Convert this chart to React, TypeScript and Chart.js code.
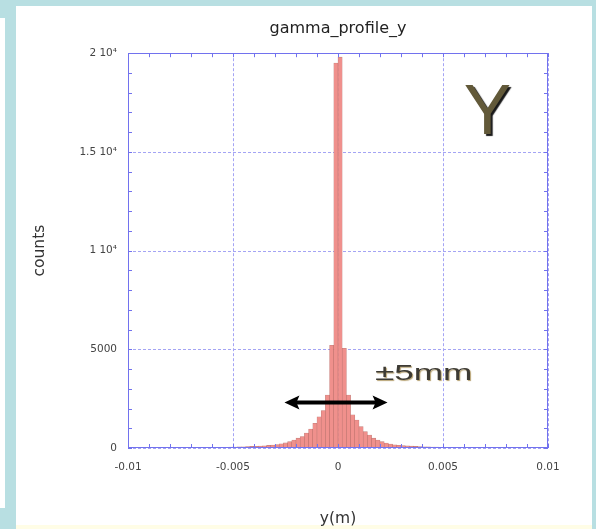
import React, { useEffect, useRef } from 'react';
import { Chart, registerables } from 'chart.js';

Chart.register(...registerables);

// ---- data ----
const binStart = -0.01;
const binWidth = 0.0002;
const counts = [
  0, 0, 0, 0, 0, 0, 0, 0, 0, 0,
  0, 0, 0, 0, 0, 0, 8, 14, 18, 22,
  26, 30, 35, 40, 46, 52, 58, 65, 72, 80,
  90, 100, 115, 130, 150, 170, 210, 260, 320, 400,
  500, 580, 760, 960, 1250, 1580, 1900, 2680, 5200, 19500,
  19800, 5050, 2680, 1680, 1420, 1080, 830, 660, 500, 400,
  320, 250, 200, 165, 140, 120, 105, 92, 80, 70,
  62, 55, 48, 42, 37, 32, 28, 24, 20, 16,
  12, 8, 0, 0, 0, 0, 0, 0, 0, 0,
  0, 0, 0, 0, 0, 0, 0, 0, 0, 0,
];
const binLabels = counts.map((_, i) => (binStart + (i + 0.5) * binWidth).toFixed(4));

const xTickValues = [-0.01, -0.005, 0, 0.005, 0.01];
const xTickLabels = ['-0.01', '-0.005', '0', '0.005', '0.01'];
const yTickValues = [0, 5000, 10000, 15000, 20000];
const yTickLabels = ['0', '5000', '1 10\u2074', '1.5 10\u2074', '2 10\u2074'];
const xMinorStep = 0.001;
const yMinorStep = 1000;

const titleText = 'gamma_profile_y';
const xTitle = 'y(m)';
const yTitle = 'counts';

// annotations (data coordinates)
const arrowFrom = -0.00255;
const arrowTo = 0.00236;
const arrowY = 2300;
const rangeLabel = '\u00B15mm';
const rangeLabelX0 = 0.00176;
const rangeLabelX1 = 0.0064;
const rangeLabelY = 3430;
const axisLetter = 'Y';
const axisLetterX = 0.00712;
const axisLetterY = 15900;

const gridColor = '#a4a4f4';
const frameColor = '#7272ee';

const framePlugin = {
  id: 'frameAndNotes',
  beforeDatasetsDraw(chart: any) {
    const { ctx, chartArea: a, scales } = chart;
    const x = scales.x;
    const y = scales.y;
    ctx.save();
    ctx.strokeStyle = gridColor;
    ctx.lineWidth = 1;
    ctx.setLineDash([3, 2]);
    ctx.beginPath();
    xTickValues.forEach((v) => {
      const px = Math.round(x.getPixelForValue(v)) + 0.5;
      ctx.moveTo(px, a.top);
      ctx.lineTo(px, a.bottom);
    });
    yTickValues.forEach((v) => {
      const py = Math.round(y.getPixelForValue(v)) + 0.5;
      ctx.moveTo(a.left, py);
      ctx.lineTo(a.right, py);
    });
    ctx.stroke();
    ctx.restore();
  },
  afterDatasetsDraw(chart: any) {
    const { ctx, chartArea: a, scales } = chart;
    const x = scales.x;
    const y = scales.y;
    ctx.save();
    // frame
    ctx.strokeStyle = frameColor;
    ctx.lineWidth = 1;
    ctx.strokeRect(Math.round(a.left) + 0.5, Math.round(a.top) + 0.5, Math.round(a.width) - 1, Math.round(a.height) - 1);
    // minor ticks, inward on all sides
    ctx.beginPath();
    const nx = Math.round((x.max - x.min) / xMinorStep);
    for (let k = 0; k <= nx; k++) {
      const px = Math.round(x.getPixelForValue(x.min + k * xMinorStep)) + 0.5;
      ctx.moveTo(px, a.bottom);
      ctx.lineTo(px, a.bottom - 4);
      ctx.moveTo(px, a.top);
      ctx.lineTo(px, a.top + 4);
    }
    const ny = Math.round((y.max - y.min) / yMinorStep);
    for (let k = 0; k <= ny; k++) {
      const py = Math.round(y.getPixelForValue(y.min + k * yMinorStep)) + 0.5;
      ctx.moveTo(a.left, py);
      ctx.lineTo(a.left + 4, py);
      ctx.moveTo(a.right, py);
      ctx.lineTo(a.right - 4, py);
    }
    ctx.stroke();

    // double arrow
    const ax0 = x.getPixelForValue(arrowFrom);
    const ax1 = x.getPixelForValue(arrowTo);
    const ay = y.getPixelForValue(arrowY);
    ctx.strokeStyle = '#000';
    ctx.fillStyle = '#000';
    ctx.lineWidth = 4;
    ctx.beginPath();
    ctx.moveTo(ax0 + 8, ay);
    ctx.lineTo(ax1 - 8, ay);
    ctx.stroke();
    ctx.beginPath();
    ctx.moveTo(ax0, ay);
    ctx.lineTo(ax0 + 15, ay - 7);
    ctx.lineTo(ax0 + 12, ay);
    ctx.lineTo(ax0 + 15, ay + 7);
    ctx.closePath();
    ctx.fill();
    ctx.beginPath();
    ctx.moveTo(ax1, ay);
    ctx.lineTo(ax1 - 15, ay - 7);
    ctx.lineTo(ax1 - 12, ay);
    ctx.lineTo(ax1 - 15, ay + 7);
    ctx.closePath();
    ctx.fill();

    // ±5mm label
    const lx0 = x.getPixelForValue(rangeLabelX0);
    const lx1 = x.getPixelForValue(rangeLabelX1);
    const ly = y.getPixelForValue(rangeLabelY);
    ctx.font = '22px "Liberation Sans", Arial, sans-serif';
    ctx.textAlign = 'left';
    ctx.textBaseline = 'alphabetic';
    const w = ctx.measureText(rangeLabel).width;
    ctx.save();
    ctx.translate(lx0, ly);
    ctx.scale((lx1 - lx0) / w, 1);
    ctx.shadowColor = 'rgba(150,120,50,0.7)';
    ctx.shadowOffsetX = 1;
    ctx.shadowOffsetY = 1;
    ctx.shadowBlur = 1;
    ctx.fillStyle = '#3c3a34';
    ctx.fillText(rangeLabel, 0, 0);
    ctx.restore();

    // big Y
    ctx.save();
    ctx.font = '71px "Liberation Sans", Arial, sans-serif';
    ctx.textAlign = 'center';
    ctx.textBaseline = 'alphabetic';
    ctx.shadowColor = 'rgba(0,0,0,0.9)';
    ctx.shadowOffsetX = 2;
    ctx.shadowOffsetY = 2;
    ctx.shadowBlur = 1;
    ctx.fillStyle = '#625939';
    ctx.fillText(axisLetter, x.getPixelForValue(axisLetterX), y.getPixelForValue(axisLetterY));
    ctx.restore();

    ctx.restore();
  },
};

export default function App() {
  const ref = useRef<HTMLCanvasElement | null>(null);

  useEffect(() => {
    if (!ref.current) return;
    const chart = new Chart(ref.current, {
      type: 'bar',
      data: {
        labels: binLabels,
        datasets: [
          {
            data: counts,
            xAxisID: 'xb',
            yAxisID: 'y',
            backgroundColor: '#f0908c',
            borderColor: 'rgba(175,85,80,0.75)',
            borderWidth: 0.6,
            barPercentage: 1,
            categoryPercentage: 1,
          },
        ],
      },
      options: {
        responsive: false,
        animation: false,
        events: [],
        layout: { padding: { left: 16, right: 48, top: 0, bottom: 1 } },
        plugins: {
          legend: { display: false },
          tooltip: { enabled: false },
          title: {
            display: true,
            text: titleText,
            fullSize: false,
            color: '#222',
            font: { family: '"DejaVu Sans", sans-serif', size: 16, weight: 'normal' },
            padding: { top: 19, bottom: 15 },
          },
        },
        scales: {
          xb: {
            type: 'category',
            display: false,
            offset: true,
          },
          x: {
            type: 'linear',
            position: 'bottom',
            offset: false,
            min: -0.01,
            max: 0.01,
            afterBuildTicks: (s: any) => {
              s.ticks = xTickValues.map((v) => ({ value: v }));
            },
            afterFit: (s: any) => {
              s.height = 80;
            },
            ticks: {
              padding: 13,
              color: '#444',
              autoSkip: false,
              maxRotation: 0,
              font: { family: '"DejaVu Sans", sans-serif', size: 10.5 },
              callback: (v: any) => {
                const i = xTickValues.findIndex((t) => Math.abs(t - Number(v)) < 1e-9);
                return i >= 0 ? xTickLabels[i] : '';
              },
            },
            grid: { display: false, drawTicks: false, offset: false },
            border: { display: false },
            title: {
              display: true,
              text: xTitle,
              color: '#333',
              font: { family: '"DejaVu Sans", sans-serif', size: 15.5 },
              padding: { top: 10, bottom: 0 },
            },
          },
          y: {
            type: 'linear',
            position: 'left',
            min: 0,
            max: 20000,
            afterBuildTicks: (s: any) => {
              s.ticks = yTickValues.map((v) => ({ value: v }));
            },
            afterFit: (s: any) => {
              s.width = 112;
            },
            ticks: {
              padding: 11,
              color: '#444',
              autoSkip: false,
              font: { family: '"DejaVu Sans", sans-serif', size: 10.5 },
              callback: (v: any) => {
                const i = yTickValues.findIndex((t) => Math.abs(t - Number(v)) < 1e-6);
                return i >= 0 ? yTickLabels[i] : '';
              },
            },
            grid: { display: false, drawTicks: false },
            border: { display: false },
            title: {
              display: true,
              text: yTitle,
              color: '#333',
              font: { family: '"DejaVu Sans", sans-serif', size: 15.5 },
              padding: { top: 14.7, bottom: 0 },
            },
          },
        },
      },
      plugins: [framePlugin],
    } as any);
    return () => chart.destroy();
  }, []);

  return (
    <div
      style={{
        position: 'fixed',
        left: 0,
        top: 0,
        width: 596,
        height: 529,
        background: '#b8dfe2',
        overflow: 'hidden',
      }}
    >
      <div style={{ position: 'absolute', left: 0, top: 18, width: 5, height: 490, background: '#ffffff' }} />
      <div style={{ position: 'absolute', left: 16, top: 6, width: 576, height: 523, background: '#ffffff' }} />
      <div style={{ position: 'absolute', left: 16, top: 525, width: 576, height: 4, background: '#fffde6' }} />
      <canvas
        ref={ref}
        width={596}
        height={529}
        style={{ position: 'absolute', left: 0, top: 0, width: 596, height: 529, display: 'block' }}
      />
    </div>
  );
}
